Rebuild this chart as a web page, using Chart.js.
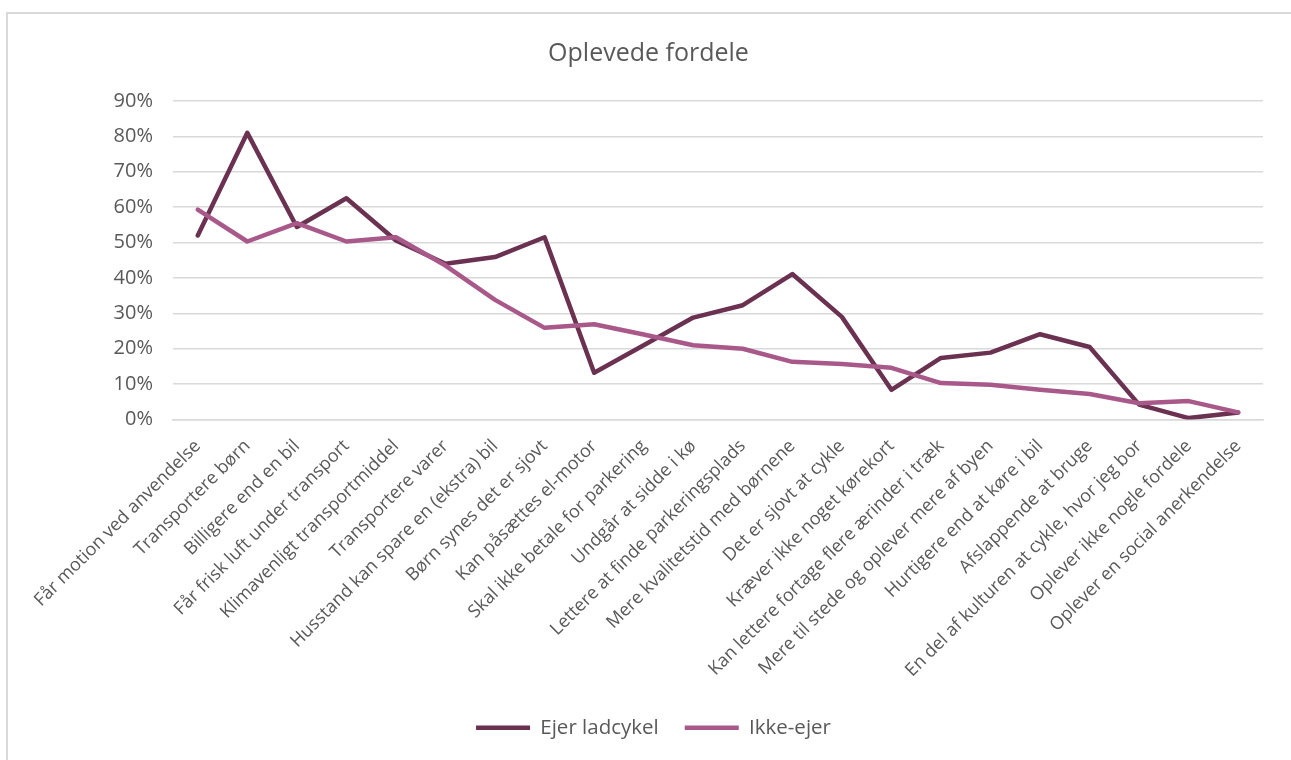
<!DOCTYPE html>
<html>
<head>
<meta charset="utf-8">
<script src="https://cdn.jsdelivr.net/npm/chart.js@4"></script>
<style>
  html, body { margin: 0; padding: 0; background: #fff; overflow: hidden; }
  #ramme { position: absolute; left: 6px; top: 12px; width: 1300px; height: 800px; border: 2px solid #d9d9d9; }
  #boks { position: absolute; left: 8px; top: 14px; width: 1283px; height: 746px; }
</style>
</head>
<body>
<div id="ramme"></div>
<div id="boks"><canvas id="graf"></canvas></div>
<script>
const kategorier = [
    "Får motion ved anvendelse",
    "Transportere børn",
    "Billigere end en bil",
    "Får frisk luft under transport",
    "Klimavenligt transportmiddel",
    "Transportere varer",
    "Husstand kan spare en (ekstra) bil",
    "Børn synes det er sjovt",
    "Kan påsættes el-motor",
    "Skal ikke betale for parkering",
    "Undgår at sidde i kø",
    "Lettere at finde parkeringsplads",
    "Mere kvalitetstid med børnene",
    "Det er sjovt at cykle",
    "Kræver ikke noget kørekort",
    "Kan lettere fortage flere ærinder i træk",
    "Mere til stede og oplever mere af byen",
    "Hurtigere end at køre i bil",
    "Afslappende at bruge",
    "En del af kulturen at cykle, hvor jeg bor",
    "Oplever ikke nogle fordele",
    "Oplever en social anerkendelse"
];

// procent
const ejerLadcykel = [52, 81, 54.4, 62.5, 50.6, 44, 45.9, 51.5, 13.2, 21, 28.8, 32.3, 41.1, 29, 8.4, 17.4, 18.9, 24.1, 20.5, 4.2, 0.4, 2];
const ikkeEjer = [59.3, 50.3, 55.5, 50.3, 51.5, 43.5, 33.8, 25.9, 26.9, 24, 21, 20, 16.3, 15.7, 14.6, 10.3, 9.8, 8.4, 7.2, 4.6, 5.2, 2];

const yTicks = [0, 10, 20, 30, 40, 50, 60, 70, 80, 90];

const tekstFarve = "#595959";
const skrift = "'Open Sans', sans-serif";

// skub titel og forklaring lidt til højre, som i Excel
const flytBokse = {
    id: "flytBokse",
    afterLayout(chart) {
        chart.legend.left += 18;
        chart.legend.right += 18;
        chart.titleBlock.left += 13;
        chart.titleBlock.right += 13;
    }
};

const ctx = document.getElementById("graf").getContext("2d");
const minGraf = new Chart(ctx, {
    type: "line",
    data: {
        labels: kategorier,
        datasets: [
            {
                label: "Ejer ladcykel",
                data: ejerLadcykel,
                borderColor: "#6A3151",
                backgroundColor: "#6A3151",
                borderWidth: 4.5,
                pointRadius: 0,
                borderJoinStyle: "round",
                borderCapStyle: "round",
                order: 1
            },
            {
                label: "Ikke-ejer",
                data: ikkeEjer,
                borderColor: "#A9588A",
                backgroundColor: "#A9588A",
                borderWidth: 4.5,
                pointRadius: 0,
                borderJoinStyle: "round",
                borderCapStyle: "round",
                order: 0
            }
        ]
    },
    options: {
        responsive: true,
        maintainAspectRatio: false,
        animation: false,
        layout: { padding: { top: 0, right: 28, bottom: 12, left: 0 } },
        plugins: {
            title: {
                display: true,
                text: "Oplevede fordele",
                color: tekstFarve,
                font: { family: skrift, size: 25, weight: "normal" },
                padding: { top: 25, bottom: 32 }
            },
            legend: {
                position: "bottom",
                labels: {
                    color: tekstFarve,
                    font: { family: skrift, size: 20.5 },
                    usePointStyle: true,
                    pointStyle: "line",
                    boxWidth: 44,
                    pointStyleWidth: 54,
                    padding: 26,
                    sort: (a, b) => a.datasetIndex - b.datasetIndex
                }
            },
            tooltip: { enabled: false }
        },
        scales: {
            x: {
                offset: true,
                grid: { display: false, drawTicks: false },
                border: { display: true, color: "#d9d9d9", width: 1.5 },
                ticks: {
                    color: tekstFarve,
                    font: { family: skrift, size: 18 },
                    minRotation: 45,
                    maxRotation: 45,
                    autoSkip: false,
                    padding: 16
                },
                afterFit: (s) => { s.height = 272; }
            },
            y: {
                min: 0,
                max: 90,
                afterBuildTicks: (s) => { s.ticks = yTicks.map(v => ({ value: v })); },
                grid: { color: "#d9d9d9", lineWidth: 1.5, drawTicks: false },
                border: { display: false },
                ticks: {
                    color: tekstFarve,
                    font: { family: skrift, size: 20 },
                    padding: 20,
                    callback: (v) => v + "%"
                },
                afterFit: (s) => { s.width = 165; }
            }
        }
    },
    plugins: [flytBokse]
});
</script>
</body>
</html>
